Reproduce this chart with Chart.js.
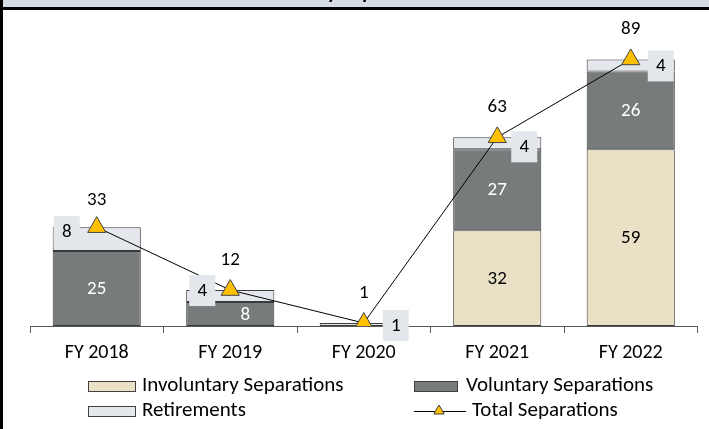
<!DOCTYPE html>
<html>
<head>
<meta charset="utf-8">
<script src="https://cdn.jsdelivr.net/npm/chart.js@4"></script>
<style>
  html, body { margin: 0; padding: 0; background: #fff; overflow: hidden; }
  #chart { display: block; }
</style>
</head>
<body>
<canvas id="chart" width="709" height="429"></canvas>
<script>
'use strict';

// data
let years = ['FY 2018', 'FY 2019', 'FY 2020', 'FY 2021', 'FY 2022'];
let involuntary = [0, 0, 0, 32, 59];
let voluntary = [25, 8, 0, 27, 26];
let retirements = [8, 4, 1, 4, 4];
let totals = [33, 12, 1, 63, 89];

let FONT = 'Carlito, Lato, sans-serif';
let FS = 19;

// where the little retirement boxes sit, relative to the triangle
let retBoxShift = [[-30, 4], [-28, 0], [32, 2], [27, 9], [30, 6]];
let volLabelShift = [0, 15, 0, 0, 0];
let totalLabelLift = [27, 30, 30, 30, 30];

let canvasElem = document.getElementById('chart');

// frame + cut-off title strip at the top
const framePlugin = {
  id: 'frame',
  afterDraw(chart) {
    let ctx = chart.ctx;
    ctx.save();
    ctx.fillStyle = '#d6dce4';
    ctx.fillRect(0, 0, 709, 7);
    ctx.beginPath();
    ctx.rect(0, 0, 709, 7);
    ctx.clip();
    ctx.fillStyle = '#000';
    ctx.font = 'bold 21px ' + FONT;
    ctx.textAlign = 'left';
    ctx.textBaseline = 'alphabetic';
    // only the descenders of the title peek out below the crop
    let head = 'Attrition b';
    let x0 = 332 - ctx.measureText(head).width - ctx.measureText('y').width / 2;
    ctx.fillText('Attrition by Separation Reason', x0, -1.5);
    ctx.restore();
    ctx.save();
    ctx.fillStyle = '#000';
    ctx.fillRect(0, 7, 709, 3);
    ctx.fillRect(0, 0, 3, 429);
    ctx.restore();
  }
};

function tri(ctx, x, y, r) {
  ctx.beginPath();
  ctx.moveTo(x, y - r);
  ctx.lineTo(x + r * 0.866, y + r / 2);
  ctx.lineTo(x - r * 0.866, y + r / 2);
  ctx.closePath();
}

const labelPlugin = {
  id: 'labels',
  afterDatasetsDraw(chart) {
    let ctx = chart.ctx;
    ctx.save();
    ctx.font = FS + 'px ' + FONT;
    ctx.textAlign = 'center';
    ctx.textBaseline = 'middle';

    // numbers inside the bars
    [[0, '#000'], [1, '#fff']].forEach(function (pair) {
      let meta = chart.getDatasetMeta(pair[0]);
      let vals = chart.data.datasets[pair[0]].data;
      meta.data.forEach(function (bar, i) {
        if (!vals[i]) return;
        let dx = pair[0] === 1 ? volLabelShift[i] : 0;
        ctx.fillStyle = pair[1];
        ctx.fillText(vals[i], bar.x + dx, (bar.y + bar.base) / 2 + 1);
      });
    });

    // retirement boxes and totals, placed around the triangles
    let lineMeta = chart.getDatasetMeta(3);
    lineMeta.data.forEach(function (pt, i) {
      let bx = pt.x + retBoxShift[i][0];
      let by = pt.y + retBoxShift[i][1];
      ctx.fillStyle = '#e3e6eb';
      ctx.fillRect(bx - 13, by - 15, 26, 31);
      ctx.fillStyle = '#000';
      ctx.fillText(retirements[i], bx, by + 1);
      ctx.fillText(totals[i], pt.x, pt.y - totalLabelLift[i]);
    });
    ctx.restore();
  }
};

const legendPlugin = {
  id: 'myLegend',
  afterDraw(chart) {
    let ctx = chart.ctx;
    let ds = chart.data.datasets;
    ctx.save();
    ctx.font = '21px ' + FONT;
    ctx.textAlign = 'left';
    ctx.textBaseline = 'middle';
    ctx.lineWidth = 1;

    let boxes = [
      [ds[0], 88.5, 381.5, 47, 10, 142, 386],
      [ds[1], 414.5, 381.5, 43, 10, 466, 386],
      [ds[2], 88.5, 406.5, 47, 10, 142, 411]
    ];
    boxes.forEach(function (b) {
      ctx.fillStyle = b[0].backgroundColor;
      ctx.fillRect(b[1], b[2], b[3], b[4]);
      ctx.strokeStyle = '#404040';
      ctx.strokeRect(b[1], b[2], b[3], b[4]);
      ctx.fillStyle = '#000';
      ctx.fillText(b[0].label, b[5], b[6]);
    });

    // total separations sample
    ctx.strokeStyle = '#000';
    ctx.beginPath();
    ctx.moveTo(414, 411.5);
    ctx.lineTo(466, 411.5);
    ctx.stroke();
    tri(ctx, 439, 411, 6);
    ctx.fillStyle = ds[3].pointBackgroundColor;
    ctx.fill();
    ctx.strokeStyle = '#404040';
    ctx.stroke();
    ctx.fillStyle = '#000';
    ctx.fillText(ds[3].label, 472, 411);
    ctx.restore();
  }
};

function barBorder(c) {
  return c.raw ? 1 : 0;
}

new Chart(canvasElem, {
  data: {
    labels: years,
    datasets: [
      {
        type: 'bar',
        label: 'Involuntary Separations',
        data: involuntary,
        backgroundColor: '#e9e0c5',
        borderColor: '#3a3a3a',
        borderWidth: barBorder,
        borderSkipped: false,
        order: 1
      },
      {
        type: 'bar',
        label: 'Voluntary Separations',
        data: voluntary,
        backgroundColor: '#777b7b',
        borderColor: '#3a3a3a',
        borderWidth: barBorder,
        borderSkipped: false,
        order: 1
      },
      {
        type: 'bar',
        label: 'Retirements',
        data: retirements,
        backgroundColor: '#e4e7ec',
        borderColor: '#3a3a3a',
        borderWidth: barBorder,
        borderSkipped: false,
        order: 1
      },
      {
        type: 'line',
        label: 'Total Separations',
        data: totals,
        borderColor: '#000',
        borderWidth: 1,
        tension: 0,
        pointStyle: 'triangle',
        pointRadius: 10.5,
        pointBackgroundColor: '#ffc000',
        pointBorderColor: '#404040',
        pointBorderWidth: 1,
        order: 0
      }
    ]
  },
  options: {
    responsive: false,
    animation: false,
    events: [],
    layout: { padding: { left: 30, right: 0, top: 10, bottom: 56 } },
    datasets: { bar: { categoryPercentage: 1, barPercentage: 0.66 } },
    plugins: { legend: { display: false }, tooltip: { enabled: false } },
    scales: {
      x: {
        stacked: true,
        grid: { offset: true, drawOnChartArea: false, tickLength: 7, color: '#595959' },
        border: { display: true, color: '#595959' },
        ticks: { color: '#000', font: { family: FONT, size: 20 }, padding: 8 }
      },
      y: {
        stacked: true,
        display: false,
        min: 0,
        max: 105
      }
    }
  },
  plugins: [labelPlugin, legendPlugin, framePlugin]
});
</script>
</body>
</html>
